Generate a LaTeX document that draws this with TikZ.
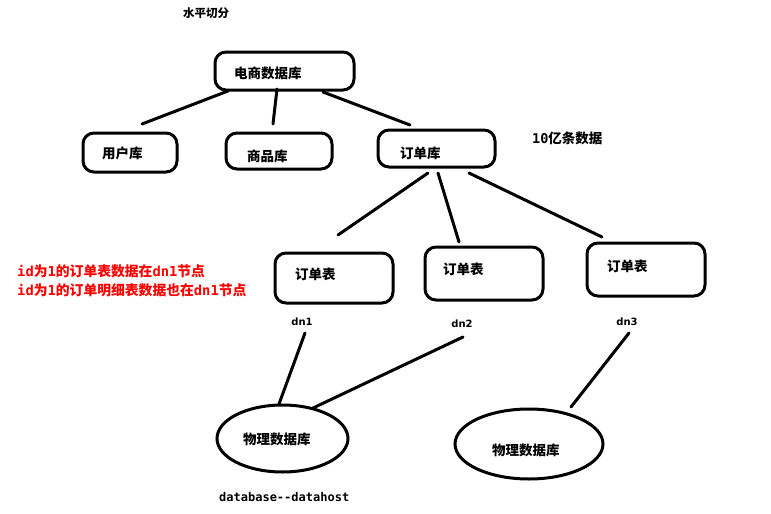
\documentclass[tikz,border=0pt]{standalone}
\usepackage{fontspec}
\usetikzlibrary{shapes.geometric}
\setmainfont{DejaVu Sans}
\newfontfamily\cjk{Noto Sans CJK SC}
\newfontfamily\monof{DejaVu Sans Mono}
\newfontfamily\sansf{DejaVu Sans}
\begin{document}
\begin{tikzpicture}[x=1pt,y=-1pt,
  box/.style={draw=black,line width=3pt,rounded corners=11pt,inner sep=0pt},
  oval/.style={draw=black,line width=3pt,ellipse,inner sep=0pt},
  conn/.style={draw=black,line width=3pt,line cap=round},
  lbl/.style={anchor=west,inner sep=0pt,font=\cjk\bfseries\fontsize{13.5}{15}\selectfont},
  dnlbl/.style={inner sep=0pt,font=\sansf\bfseries\fontsize{10}{12}\selectfont},
  redlbl/.style={anchor=west,inner sep=0pt,text=red,font=\fontsize{13.8}{15}\selectfont\bfseries}
]
\useasboundingbox (0,0) rectangle (771,514);
\fill[white] (0,0) rectangle (771,514);

% title
\node[lbl,font=\cjk\bfseries\fontsize{11.5}{13}\selectfont] (title) at (183,13) {水平切分};

% top level
\node[box,minimum width=139pt,minimum height=38pt] (ds) at (284.5,71) {};
\node[lbl] (dst) at (234,73) {电商数据库};

\node[box,minimum width=94pt,minimum height=39pt] (yh) at (130,152.5) {};
\node[lbl] (yht) at (102,153) {用户库};
\node[box,minimum width=106pt,minimum height=36pt] (sp) at (279,151) {};
\node[lbl] (spt) at (247,156) {商品库};
\node[box,minimum width=117pt,minimum height=37pt] (dd) at (436.5,148.5) {};
\node[lbl] (ddt) at (400,153) {订单库};

\node[lbl] (cnt) at (532,138) {{\monof\bfseries 10}亿条数据};

% tables
\node[box,minimum width=118pt,minimum height=50pt] (t1) at (334,278) {};
\node[lbl] (t1t) at (295,274) {订单表};
\node[box,minimum width=118pt,minimum height=53pt] (t2) at (484,273.5) {};
\node[lbl] (t2t) at (443,269) {订单表};
\node[box,minimum width=118pt,minimum height=53pt] (t3) at (646,269.5) {};
\node[lbl] (t3t) at (607,266) {订单表};

\node[dnlbl] (dn1) at (302,322) {dn1};
\node[dnlbl] (dn2) at (462,324) {dn2};
\node[dnlbl] (dn3) at (627,322) {dn3};

% red notes
\node[redlbl] (r1) at (17,271) {{\monof id}{\cjk 为}{\monof 1}{\cjk 的订单表数据在}{\monof dn1}{\cjk 节点}};
\node[redlbl] (r2) at (17,290) {{\monof id}{\cjk 为}{\monof 1}{\cjk 的订单明细表数据也在}{\monof dn1}{\cjk 节点}};

% physical dbs
\node[oval,minimum width=131pt,minimum height=67pt] (p1) at (282.5,438.5) {};
\node[lbl] (p1t) at (243,439) {物理数据库};
\node[oval,minimum width=148pt,minimum height=70pt] (p2) at (529,444) {};
\node[lbl] (p2t) at (492,450) {物理数据库};

\node[inner sep=0pt,anchor=west,font=\monof\bfseries\fontsize{12}{14}\selectfont] (dh) at (219,497) {database{-}{-}datahost};

% connector end points (lines stop short of the shapes)
\coordinate (a1) at (228,91);  \coordinate (b1) at (142,124);
\coordinate (a2) at (277,89);  \coordinate (b2) at (273,124);
\coordinate (a3) at (323,92);  \coordinate (b3) at (410,125);
\coordinate (c1) at (428,173); \coordinate (d1) at (338,235);
\coordinate (c2) at (438,173); \coordinate (d2) at (459,242);
\coordinate (c3) at (469,173); \coordinate (d3) at (602,237);
\coordinate (e1) at (305,333); \coordinate (f1) at (279,404);
\coordinate (e2) at (463,337); \coordinate (f2) at (313,408);
\coordinate (e3) at (629,333); \coordinate (f3) at (571,407);

\draw[conn] (a1) -- (b1);
\draw[conn] (a2) -- (b2);
\draw[conn] (a3) -- (b3);
\draw[conn] (c1) -- (d1);
\draw[conn] (c2) -- (d2);
\draw[conn] (c3) -- (d3);
\draw[conn] (e1) -- (f1);
\draw[conn] (e2) -- (f2);
\draw[conn] (e3) -- (f3);
\end{tikzpicture}
\end{document}
